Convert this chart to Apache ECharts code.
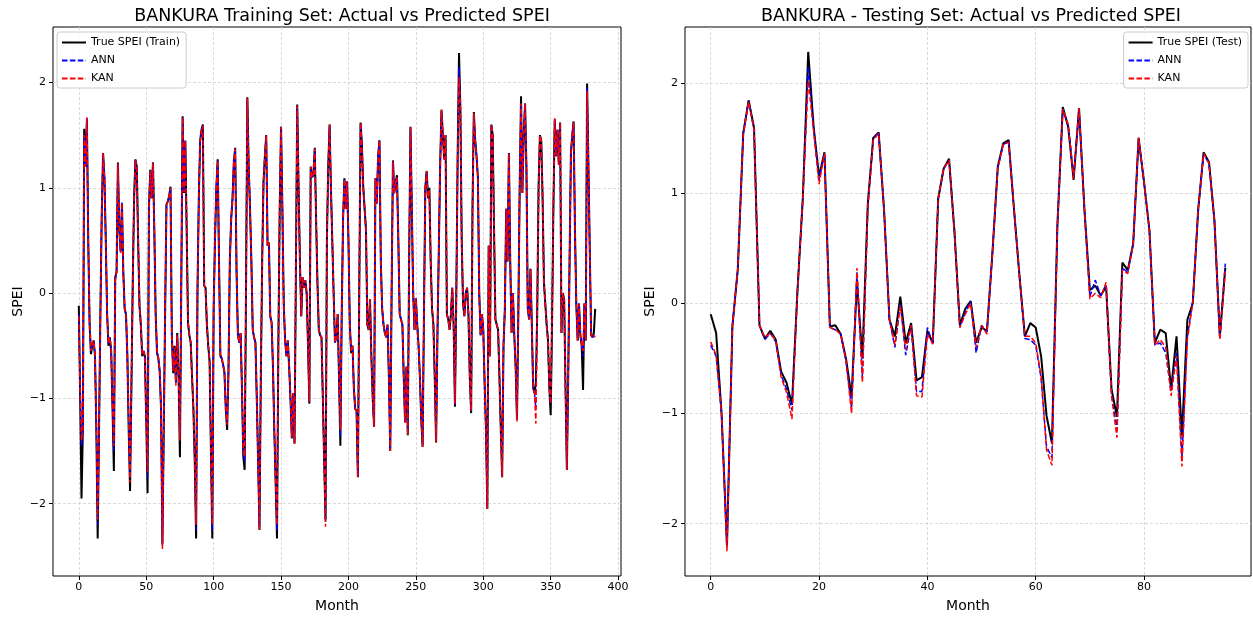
<!DOCTYPE html>
<html>
<head>
<meta charset="utf-8">
<title>BANKURA SPEI</title>
<script src="https://cdn.jsdelivr.net/npm/echarts@6/dist/echarts.min.js"></script>
<style>
  html, body { margin: 0; padding: 0; background: #fff; }
  #chart { width: 1253px; height: 618px; }
</style>
</head>
<body>
<div id="chart"></div>
<script>
// training set, one row = 12 months
const trainTrue = [
  -0.12, -1.0, -1.95, -1.3, 1.56, 1.2, 1.65, 0.5, -0.3, -0.58, -0.5, -0.45,
  -0.6, -1.3, -2.33, -1.3, -0.2, 0.75, 1.33, 1.1, 0.5, -0.2, -0.5, -0.42,
  -0.55, -1.1, -1.69, 0.15, 0.2, 1.24, 0.6, 0.4, 0.85, 0.2, -0.15, -0.2,
  -0.6, -1.3, -1.88, -0.9, 0.1, 0.9, 1.27, 1.2, 0.5, -0.12, -0.3, -0.6,
  -0.55, -0.6, -1.2, -1.9, 0.8, 1.17, 0.9, 1.24, 0.6, -0.2, -0.57, -0.62,
  -0.75, -1.1, -2.38, -1.3, -0.2, 0.84, 0.87, 0.92, 1.01, -0.4, -0.76, -0.5,
  -0.85, -0.38, -0.8, -1.56, 0.1, 1.68, 0.95, 1.45, 0.6, -0.28, -0.4, -0.47,
  -0.8, -1.1, -1.6, -2.33, 0.0, 0.9, 1.45, 1.55, 1.6, 0.07, 0.05, -0.3,
  -0.5, -0.65, -1.5, -2.33, -0.15, 0.5, 1.0, 1.27, 0.3, -0.6, -0.62, -0.68,
  -0.75, -1.1, -1.3, -0.75, 0.3, 0.7, 0.9, 1.25, 1.38, 0.2, -0.4, -0.47,
  -0.38, -0.9, -1.55, -1.68, 0.0, 1.86, 1.2, 0.8, 0.3, -0.35, -0.42, -0.47,
  -1.0, -1.6, -2.25, -0.8, 0.3, 1.06, 1.3, 1.5, 0.45, 0.48, -0.22, -0.28,
  -0.7, -1.3, -1.8, -2.33, -0.5, 0.8, 1.58, 0.8, -0.1, -0.45, -0.6, -0.45,
  -0.7, -1.0, -1.38, -0.95, -1.43, 0.2, 1.79, 1.0, 0.3, -0.22, 0.15, 0.05,
  0.12, 0.0, -0.5, -1.05, 1.2, 1.1, 1.12, 1.38, 0.7, 0.1, -0.35, -0.4,
  -0.42, -1.0, -1.6, -2.15, 0.5, 1.2, 1.6, 1.0, 0.5, 0.0, -0.47, -0.42,
  -0.2, -0.8, -1.45, -0.2, 0.7, 1.09, 0.8, 1.06, 0.5, -0.3, -0.57, -0.5,
  -0.9, -1.1, -1.12, -1.75, 0.0, 1.62, 1.4, 1.0, 0.8, 0.6, -0.3, -0.35,
  -0.06, -0.6, -1.0, -1.27, 1.09, 0.85, 1.3, 1.45, 0.3, -0.15, -0.3, -0.38,
  -0.42, -0.3, -0.8, -1.5, 0.0, 1.26, 0.95, 1.05, 1.12, 0.5, -0.2, -0.2,
  -0.3, -0.8, -1.23, -0.7, -1.35, 0.3, 1.58, 0.8, 0.0, -0.35, -0.05, -0.3,
  -0.5, -0.8, -1.2, -1.46, -0.2, 1.0, 1.16, 0.9, 1.0, 0.3, -0.15, -0.3,
  -0.8, -1.42, -0.4, 0.4, 1.2, 1.74, 1.5, 1.27, 1.5, -0.2, -0.25, -0.35,
  -0.2, 0.05, -0.3, -1.08, 0.0, 1.3, 2.28, 1.77, 0.5, -0.1, -0.22, 0.0,
  0.05, -0.2, -0.8, -1.14, 0.8, 1.72, 1.45, 1.3, 1.1, 0.0, -0.4, -0.2,
  -0.35, -0.85, -1.3, -2.05, 0.45, -0.6, 1.6, 1.5, 0.6, -0.25, -0.3, -0.35,
  -0.8, -1.3, -1.75, -0.5, -0.15, 0.8, 0.3, 1.33, 0.3, -0.38, 0.0, -0.4,
  -0.7, -1.2, -0.2, 1.0, 1.87, 0.95, 1.5, 1.8, 1.2, -0.15, -0.25, 0.23,
  -0.3, -0.9, -0.95, -0.85, -0.2, 1.0, 1.5, 1.45, 0.9, 0.1, 0.1, -0.3,
  -0.45, -0.9, -1.16, -0.3, 0.8, 1.65, 1.3, 1.55, 1.22, 1.62, -0.38, 0.0,
  -0.06, -0.9, -1.68, -0.8, 0.3, 1.33, 1.5, 1.63, 0.6, -0.1, -0.45, -0.1,
  -0.4, -0.5, -0.92, -0.1, -0.45, 1.99, 1.2, 0.4, -0.4, -0.42, -0.38, -0.15
];

const trainAnn = [
  -0.2, -0.9, -1.45, -1.3, 1.5, 1.2, 1.66, 0.5, -0.28, -0.55, -0.5, -0.45,
  -0.58, -1.25, -2.2, -1.3, -0.2, 0.75, 1.32, 1.1, 0.5, -0.2, -0.48, -0.42,
  -0.53, -1.05, -1.5, 0.12, 0.2, 1.22, 0.62, 0.38, 0.86, 0.2, -0.15, -0.2,
  -0.58, -1.25, -1.75, -0.9, 0.1, 0.9, 1.26, 1.2, 0.5, -0.12, -0.3, -0.58,
  -0.55, -0.6, -1.15, -1.75, 0.8, 1.16, 0.9, 1.24, 0.6, -0.2, -0.55, -0.62,
  -0.73, -1.1, -2.4, -1.3, -0.2, 0.84, 0.87, 0.92, 1.0, -0.42, -0.74, -0.52,
  -0.85, -0.4, -0.78, -1.35, 0.1, 1.66, 0.96, 1.44, 0.6, -0.28, -0.4, -0.47,
  -0.8, -1.1, -1.6, -2.25, 0.0, 0.9, 1.44, 1.55, 1.58, 0.07, 0.05, -0.3,
  -0.5, -0.65, -1.5, -2.25, -0.15, 0.5, 1.0, 1.26, 0.3, -0.58, -0.62, -0.68,
  -0.75, -1.08, -1.22, -0.75, 0.3, 0.7, 0.9, 1.25, 1.37, 0.2, -0.4, -0.47,
  -0.38, -0.9, -1.5, -1.6, 0.0, 1.84, 1.2, 0.8, 0.3, -0.35, -0.42, -0.47,
  -1.0, -1.6, -2.22, -0.8, 0.3, 1.06, 1.3, 1.49, 0.45, 0.48, -0.22, -0.28,
  -0.7, -1.3, -1.8, -2.25, -0.5, 0.8, 1.57, 0.8, -0.1, -0.45, -0.6, -0.45,
  -0.7, -1.0, -1.36, -0.95, -1.42, 0.2, 1.78, 1.0, 0.3, -0.22, 0.15, 0.05,
  0.12, 0.0, -0.5, -1.03, 1.2, 1.1, 1.12, 1.37, 0.7, 0.1, -0.35, -0.4,
  -0.42, -1.0, -1.6, -2.18, 0.5, 1.2, 1.59, 1.0, 0.5, 0.0, -0.47, -0.42,
  -0.2, -0.8, -1.36, -0.2, 0.7, 1.08, 0.8, 1.06, 0.5, -0.3, -0.55, -0.5,
  -0.9, -1.1, -1.12, -1.74, 0.0, 1.61, 1.4, 1.0, 0.8, 0.6, -0.3, -0.35,
  -0.06, -0.6, -1.0, -1.26, 1.09, 0.85, 1.3, 1.45, 0.3, -0.15, -0.3, -0.38,
  -0.42, -0.3, -0.8, -1.5, 0.0, 1.25, 0.95, 1.05, 1.1, 0.5, -0.2, -0.2,
  -0.3, -0.8, -1.22, -0.7, -1.33, 0.3, 1.57, 0.8, 0.0, -0.35, -0.05, -0.3,
  -0.5, -0.8, -1.2, -1.45, -0.2, 1.0, 1.15, 0.9, 0.98, 0.3, -0.15, -0.3,
  -0.8, -1.4, -0.4, 0.4, 1.2, 1.72, 1.5, 1.27, 1.5, -0.2, -0.25, -0.35,
  -0.2, 0.05, -0.3, -1.06, 0.0, 1.3, 2.15, 1.76, 0.5, -0.1, -0.22, 0.0,
  0.05, -0.2, -0.8, -1.12, 0.8, 1.7, 1.45, 1.3, 1.1, 0.0, -0.4, -0.2,
  -0.35, -0.85, -1.3, -2.03, 0.45, -0.6, 1.6, 1.5, 0.6, -0.25, -0.3, -0.35,
  -0.8, -1.3, -1.73, -0.5, -0.15, 0.8, 0.3, 1.32, 0.3, -0.38, 0.0, -0.4,
  -0.7, -1.2, -0.2, 1.0, 1.8, 0.95, 1.5, 1.8, 1.2, -0.15, -0.25, 0.23,
  -0.3, -0.9, -0.95, -1.1, -0.2, 1.0, 1.5, 1.45, 0.9, 0.1, 0.1, -0.3,
  -0.45, -0.9, -1.05, -0.3, 0.8, 1.64, 1.3, 1.55, 1.22, 1.6, -0.38, 0.0,
  -0.06, -0.9, -1.66, -0.8, 0.3, 1.33, 1.5, 1.62, 0.6, -0.1, -0.45, -0.1,
  -0.4, -0.5, -0.6, -0.1, -0.45, 1.95, 1.2, 0.4, -0.4, -0.42, -0.4, -0.42
];

const trainKan = [
  -0.22, -0.95, -1.4, -1.3, 1.5, 1.2, 1.67, 0.5, -0.28, -0.55, -0.5, -0.45,
  -0.58, -1.25, -2.15, -1.3, -0.2, 0.75, 1.33, 1.1, 0.5, -0.2, -0.48, -0.42,
  -0.53, -1.05, -1.45, 0.12, 0.2, 1.23, 0.62, 0.38, 0.86, 0.2, -0.15, -0.2,
  -0.58, -1.25, -1.8, -0.9, 0.1, 0.9, 1.26, 1.2, 0.5, -0.12, -0.3, -0.58,
  -0.55, -0.6, -1.15, -1.7, 0.8, 1.16, 0.9, 1.24, 0.6, -0.2, -0.55, -0.62,
  -0.73, -1.1, -2.43, -1.3, -0.2, 0.84, 0.87, 0.92, 1.0, -0.42, -0.74, -0.52,
  -0.88, -0.4, -0.78, -1.4, 0.1, 1.67, 0.96, 1.45, 0.6, -0.28, -0.4, -0.47,
  -0.8, -1.1, -1.6, -2.2, 0.0, 0.9, 1.44, 1.55, 1.59, 0.07, 0.05, -0.3,
  -0.5, -0.65, -1.5, -2.2, -0.15, 0.5, 1.0, 1.26, 0.3, -0.58, -0.62, -0.68,
  -0.75, -1.08, -1.25, -0.75, 0.3, 0.7, 0.9, 1.25, 1.37, 0.2, -0.4, -0.47,
  -0.38, -0.9, -1.5, -1.55, 0.0, 1.85, 1.2, 0.8, 0.3, -0.35, -0.42, -0.47,
  -1.0, -1.6, -2.25, -0.8, 0.3, 1.06, 1.3, 1.5, 0.45, 0.48, -0.22, -0.28,
  -0.7, -1.3, -1.8, -2.2, -0.5, 0.8, 1.58, 0.8, -0.1, -0.45, -0.6, -0.45,
  -0.7, -1.0, -1.37, -0.95, -1.43, 0.2, 1.78, 1.0, 0.3, -0.22, 0.15, 0.05,
  0.12, 0.0, -0.5, -1.03, 1.2, 1.1, 1.12, 1.37, 0.7, 0.1, -0.35, -0.4,
  -0.42, -1.0, -1.6, -2.22, 0.5, 1.2, 1.6, 1.0, 0.5, 0.0, -0.47, -0.42,
  -0.2, -0.8, -1.3, -0.2, 0.7, 1.08, 0.8, 1.06, 0.5, -0.3, -0.55, -0.5,
  -0.9, -1.1, -1.12, -1.75, 0.0, 1.62, 1.4, 1.0, 0.8, 0.6, -0.3, -0.35,
  -0.06, -0.6, -1.0, -1.27, 1.09, 0.85, 1.3, 1.45, 0.3, -0.15, -0.3, -0.38,
  -0.42, -0.3, -0.8, -1.5, 0.0, 1.25, 0.95, 1.05, 1.1, 0.5, -0.2, -0.2,
  -0.3, -0.8, -1.23, -0.7, -1.35, 0.3, 1.58, 0.8, 0.0, -0.35, -0.05, -0.3,
  -0.5, -0.8, -1.2, -1.46, -0.2, 1.0, 1.16, 0.9, 0.98, 0.3, -0.15, -0.3,
  -0.8, -1.42, -0.4, 0.4, 1.2, 1.74, 1.5, 1.27, 1.5, -0.2, -0.25, -0.35,
  -0.2, 0.05, -0.3, -1.05, 0.0, 1.3, 2.05, 1.77, 0.5, -0.1, -0.22, 0.0,
  0.05, -0.2, -0.8, -1.12, 0.8, 1.71, 1.45, 1.3, 1.1, 0.0, -0.4, -0.2,
  -0.35, -0.85, -1.3, -2.05, 0.45, -0.6, 1.6, 1.5, 0.6, -0.25, -0.3, -0.35,
  -0.8, -1.3, -1.75, -0.5, -0.15, 0.8, 0.3, 1.33, 0.3, -0.38, 0.0, -0.4,
  -0.7, -1.22, -0.2, 1.0, 1.8, 0.95, 1.5, 1.8, 1.2, -0.15, -0.25, 0.23,
  -0.3, -0.9, -0.95, -1.24, -0.2, 1.0, 1.5, 1.45, 0.9, 0.1, 0.1, -0.3,
  -0.45, -0.9, -1.05, -0.3, 0.8, 1.66, 1.3, 1.55, 1.22, 1.62, -0.38, 0.0,
  -0.06, -0.9, -1.68, -0.8, 0.3, 1.33, 1.5, 1.62, 0.6, -0.1, -0.45, -0.1,
  -0.4, -0.5, -0.55, -0.1, -0.45, 1.92, 1.2, 0.4, -0.4, -0.42, -0.4, -0.42
];

// testing set
const testTrue = [
  -0.1, -0.27, -1.0, -2.2, -0.21, 0.31, 1.54, 1.84, 1.59, -0.2, -0.32, -0.25,
  -0.33, -0.62, -0.72, -0.92, 0.1, 0.95, 2.28, 1.6, 1.15, 1.37, -0.21, -0.2,
  -0.28, -0.51, -0.85, 0.2, -0.5, 0.9, 1.5, 1.55, 0.85, -0.15, -0.3, 0.06,
  -0.36, -0.18, -0.7, -0.67, -0.25, -0.36, 0.95, 1.22, 1.31, 0.65, -0.2, -0.05,
  0.02, -0.36, -0.22, -0.25, 0.45, 1.24, 1.45, 1.48, 0.85, 0.25, -0.3, -0.18,
  -0.22, -0.48, -1.02, -1.27, 0.7, 1.78, 1.6, 1.12, 1.77, 0.85, 0.12, 0.16,
  0.07, 0.15, -0.78, -1.03, 0.37, 0.3, 0.54, 1.5, 1.1, 0.66, -0.36, -0.24,
  -0.27, -0.78, -0.3, -1.2, -0.15, 0.0, 0.85, 1.37, 1.28, 0.75, -0.3, 0.32
];

const testAnn = [
  -0.38, -0.48, -1.0, -2.18, -0.21, 0.31, 1.54, 1.84, 1.58, -0.2, -0.33, -0.27,
  -0.35, -0.65, -0.78, -0.97, 0.1, 0.95, 2.15, 1.58, 1.12, 1.36, -0.22, -0.24,
  -0.28, -0.53, -0.95, 0.28, -0.68, 0.88, 1.49, 1.55, 0.85, -0.15, -0.4, 0.0,
  -0.47, -0.2, -0.8, -0.8, -0.22, -0.37, 0.95, 1.22, 1.3, 0.65, -0.22, -0.08,
  0.02, -0.45, -0.2, -0.26, 0.45, 1.23, 1.44, 1.47, 0.85, 0.25, -0.32, -0.33,
  -0.38, -0.68, -1.3, -1.4, 0.7, 1.76, 1.62, 1.15, 1.75, 0.85, 0.06, 0.21,
  0.07, 0.17, -0.82, -1.15, 0.32, 0.28, 0.54, 1.48, 1.1, 0.66, -0.38, -0.36,
  -0.45, -0.8, -0.45, -1.4, -0.3, 0.02, 0.85, 1.35, 1.27, 0.75, -0.32, 0.36
];

const testKan = [
  -0.35, -0.47, -1.0, -2.25, -0.21, 0.31, 1.53, 1.83, 1.57, -0.2, -0.31, -0.27,
  -0.34, -0.67, -0.81, -1.05, 0.1, 0.95, 2.02, 1.56, 1.08, 1.36, -0.22, -0.24,
  -0.28, -0.53, -1.0, 0.32, -0.72, 0.87, 1.48, 1.54, 0.85, -0.15, -0.38, -0.02,
  -0.42, -0.2, -0.84, -0.85, -0.28, -0.37, 0.95, 1.22, 1.3, 0.65, -0.22, -0.1,
  0.0, -0.4, -0.2, -0.28, 0.45, 1.22, 1.44, 1.46, 0.85, 0.25, -0.3, -0.3,
  -0.36, -0.66, -1.33, -1.47, 0.68, 1.76, 1.62, 1.13, 1.77, 0.85, 0.04, 0.09,
  0.05, 0.19, -0.84, -1.22, 0.3, 0.27, 0.54, 1.5, 1.1, 0.66, -0.38, -0.33,
  -0.4, -0.84, -0.48, -1.48, -0.33, 0.0, 0.85, 1.36, 1.27, 0.75, -0.33, 0.29
];

const trainXTicks = [0, 50, 100, 150, 200, 250, 300, 350, 400];
const testXTicks = [0, 20, 40, 60, 80];
const yTicks = [-2, -1, 0, 1, 2];

const FONT = 'DejaVu Sans';
const GRID_LINE = { show: true, lineStyle: { color: '#d0d0d0', width: 0.8, type: [3, 2] } };
const minusSign = (v) => String(v).replace('-', '\u2212');

const toPairs = (arr) => arr.map((v, i) => [i, v]);

const makeXAxis = (gridIndex, min, max, ticks) => ({
  type: 'value',
  gridIndex,
  min,
  max,
  name: 'Month',
  nameLocation: 'middle',
  nameGap: 23,
  nameTextStyle: { fontFamily: FONT, fontSize: 14, color: '#000' },
  axisLine: { show: false, onZero: false },
  axisTick: { show: true, length: 4, customValues: ticks, lineStyle: { color: '#000' } },
  axisLabel: {
    customValues: ticks, margin: 6, fontFamily: FONT, fontSize: 11, color: '#000',
    formatter: minusSign
  },
  splitLine: GRID_LINE
});

const makeYAxis = (gridIndex, min, max) => ({
  type: 'value',
  gridIndex,
  min,
  max,
  name: 'SPEI',
  nameLocation: 'middle',
  nameGap: 28,
  nameTextStyle: { fontFamily: FONT, fontSize: 14, color: '#000' },
  axisLine: { show: false, onZero: false },
  axisTick: { show: true, length: 4, customValues: yTicks, lineStyle: { color: '#000' } },
  axisLabel: {
    customValues: yTicks, margin: 7, fontFamily: FONT, fontSize: 11, color: '#000',
    formatter: minusSign
  },
  splitLine: GRID_LINE
});

const lineSeries = (name, data, idx, color, dashed) => ({
  name,
  type: 'line',
  xAxisIndex: idx,
  yAxisIndex: idx,
  data: toPairs(data),
  symbol: 'none',
  showSymbol: false,
  silent: true,
  animation: false,
  lineStyle: dashed
    ? { color, width: 1.5, type: [5.5, 2.4] }
    : { color, width: 2 },
  itemStyle: { color }
});

// legend: plain line samples, no marker dot
const legendBox = {
  orient: 'vertical',
  top: 32,
  itemWidth: 24,
  itemHeight: 10,
  itemGap: 7,
  padding: [5, 6, 4, 4],
  backgroundColor: 'rgba(255,255,255,0.85)',
  borderColor: '#cccccc',
  borderWidth: 1,
  borderRadius: 3,
  itemStyle: { opacity: 0 },
  textStyle: { fontFamily: FONT, fontSize: 11, color: '#000' },
  selectedMode: false
};

const chart = echarts.init(document.getElementById('chart'), null, { renderer: 'canvas' });

chart.setOption({
  animation: false,
  backgroundColor: '#fff',
  title: [
    {
      text: 'BANKURA Training Set: Actual vs Predicted SPEI',
      left: 337, top: 2, textAlign: 'center',
      textStyle: { fontFamily: FONT, fontSize: 17.5, fontWeight: 'normal', color: '#000' }
    },
    {
      text: 'BANKURA - Testing Set: Actual vs Predicted SPEI',
      left: 966, top: 2, textAlign: 'center',
      textStyle: { fontFamily: FONT, fontSize: 17.5, fontWeight: 'normal', color: '#000' }
    }
  ],
  legend: [
    Object.assign({}, legendBox, { left: 57, data: ['True SPEI (Train)', 'ANN', 'KAN'] }),
    Object.assign({}, legendBox, { right: 5, data: ['True SPEI (Test)', 'ANN', 'KAN'] })
  ],
  grid: [
    { left: 53, top: 27, width: 568, height: 554, show: true, borderColor: '#000', borderWidth: 1, backgroundColor: 'transparent' },
    { left: 685, top: 27, width: 566, height: 554, show: true, borderColor: '#000', borderWidth: 1, backgroundColor: 'transparent' }
  ],
  xAxis: [
    makeXAxis(0, -19.15, 402.15, trainXTicks),
    makeXAxis(1, -4.75, 99.75, testXTicks)
  ],
  yAxis: [
    makeYAxis(0, -2.687, 2.527),
    makeYAxis(1, -2.474, 2.506)
  ],
  series: [
    lineSeries('True SPEI (Train)', trainTrue, 0, '#000000', false),
    lineSeries('ANN', trainAnn, 0, '#0000ff', true),
    lineSeries('KAN', trainKan, 0, '#ff0000', true),
    lineSeries('True SPEI (Test)', testTrue, 1, '#000000', false),
    lineSeries('ANN', testAnn, 1, '#0000ff', true),
    lineSeries('KAN', testKan, 1, '#ff0000', true)
  ]
});
</script>
</body>
</html>
